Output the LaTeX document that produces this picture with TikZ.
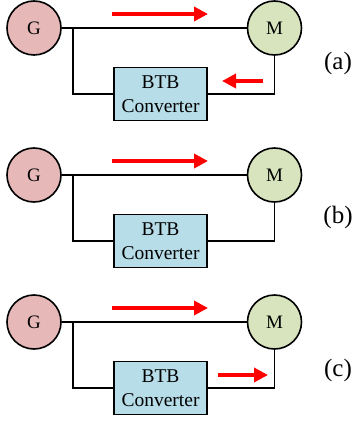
\documentclass[tikz,border=0pt]{standalone}
\usepackage{fontspec}
\setmainfont{Liberation Serif}
\usetikzlibrary{arrows.meta}
\definecolor{genpink}{RGB}{230,185,184}
\definecolor{motgreen}{RGB}{215,228,189}
\definecolor{btbblue}{RGB}{183,221,232}
\begin{document}
\begin{tikzpicture}[x=1pt,y=-1pt,
	machine/.style={circle,draw,line width=1.6pt,minimum size=54pt,inner sep=0pt,font=\fontsize{19}{21}\selectfont},
	convbox/.style={draw,line width=1.6pt,fill=btbblue,minimum width=93pt,minimum height=53pt,inner sep=0pt,align=center,font=\fontsize{19.5}{24}\selectfont},
	wire/.style={line width=1.6pt},
	flow/.style={red,line width=4.5pt,-{Triangle[length=14pt,width=14pt]}}]
	
	% Frame of the whole figure
	\useasboundingbox (0,0) rectangle (355,422);
	
	% The three cases, one under the other
	\foreach \p/\y/\ly in {a/28/63,b/175/217,c/322/370} {
		\node[machine,fill=genpink] (G\p) at (34,\y) {G};
		\node[machine,fill=motgreen] (M\p) at (274.5,\y) {M};
		\node[convbox] (C\p) at (160.5,\y+66) {BTB\\Converter};
		\coordinate (J\p) at (73,\y);
		
		% Wiring
		\draw[wire] (G\p) -- (M\p);
		\draw[wire] (J\p) |- (C\p.west);
		\draw[wire] (C\p.east) -| (M\p.south);
		
		% Direct power flow
		\coordinate (Fs\p) at (112,\y-14);
		\coordinate (Fe\p) at (208,\y-14);
		\draw[flow] (Fs\p) -- (Fe\p);
		
		% Case label
		\node[font=\fontsize{25}{28}\selectfont] (L\p) at (338,\ly) {(\p)};
	}
	
	% Converter power flow
	\coordinate (Ra) at (263,81);
	\coordinate (Rb) at (222,81);
	\draw[flow] (Ra) -- (Rb);
	\coordinate (Rc) at (218,375);
	\coordinate (Rd) at (268,375);
	\draw[flow] (Rc) -- (Rd);
	
\end{tikzpicture}
\end{document}
